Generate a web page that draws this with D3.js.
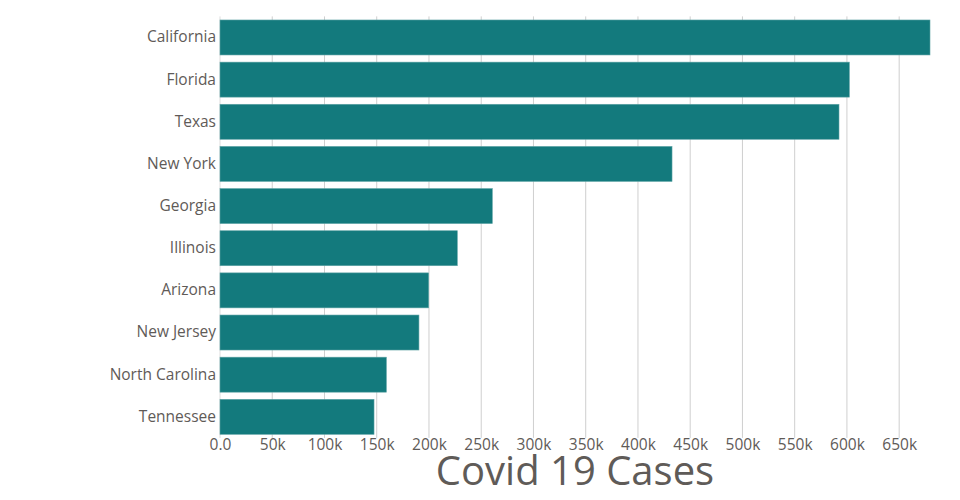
<!DOCTYPE html>
<html><head><meta charset="utf-8">
<script src="https://cdn.jsdelivr.net/npm/d3@7"></script>
<style>body{margin:0;background:#fff}svg{display:block}text{font-family:"Open Sans",sans-serif}</style>
</head><body>
<svg id="c" width="960" height="500"></svg>
<script>
const states = ["California","Florida","Texas","New York","Georgia","Illinois","Arizona","New Jersey","North Carolina","Tennessee"];
const cases = [679500,602300,592400,432600,260600,227100,199700,190400,159200,147400];
const tickValues = [0,50000,100000,150000,200000,250000,300000,350000,400000,450000,500000,550000,600000,650000];
const tickLabels = ["0.0","50k","100k","150k","200k","250k","300k","350k","400k","450k","500k","550k","600k","650k"];
const axisTitle = "Covid 19 Cases";

const svg = d3.select("#c");
const L = 220, R = 930, T = 16.4, B = 437.9;
const textColor = "#5f5b58";
const x = d3.scaleLinear().domain([0, d3.max(cases)]).range([L, R]);
const y = d3.scaleBand().domain(states).range([T, B]).paddingInner(0.17).paddingOuter(0.085);

// grid
svg.append("g").selectAll("line").data(tickValues).join("line")
  .attr("x1", d => x(d)).attr("x2", d => x(d))
  .attr("y1", T).attr("y2", B)
  .attr("stroke", d => d === 0 ? "#dddddd" : "#cfcfcf").attr("stroke-width", 1);

// bars
svg.append("g").selectAll("rect").data(states).join("rect")
  .attr("x", x(0)).attr("y", d => y(d))
  .attr("width", (d, i) => x(cases[i]) - x(0))
  .attr("height", y.bandwidth())
  .attr("fill", "#137a7d")
  .attr("stroke", "#5ea3a5").attr("stroke-width", 0.6);

// x axis
const xa = svg.append("g").attr("transform", `translate(0,${B})`)
  .call(d3.axisBottom(x).tickValues(tickValues).tickFormat((d, i) => tickLabels[i]).tickSize(0).tickPadding(1));
xa.select(".domain").remove();
xa.selectAll("text").attr("fill", textColor).attr("font-size", 15.5).style("font-family", '"Open Sans", sans-serif');

// y axis
const ya = svg.append("g").attr("transform", `translate(${L},0)`)
  .call(d3.axisLeft(y).tickSize(0).tickPadding(4));
ya.select(".domain").remove();
ya.selectAll("text").attr("fill", textColor).attr("font-size", 15.5).style("font-family", '"Open Sans", sans-serif');

// title
svg.append("text").attr("x", (L + R) / 2).attr("y", 485)
  .attr("text-anchor", "middle").attr("fill", textColor)
  .attr("font-size", 40).text(axisTitle);
</script>
</body></html>
